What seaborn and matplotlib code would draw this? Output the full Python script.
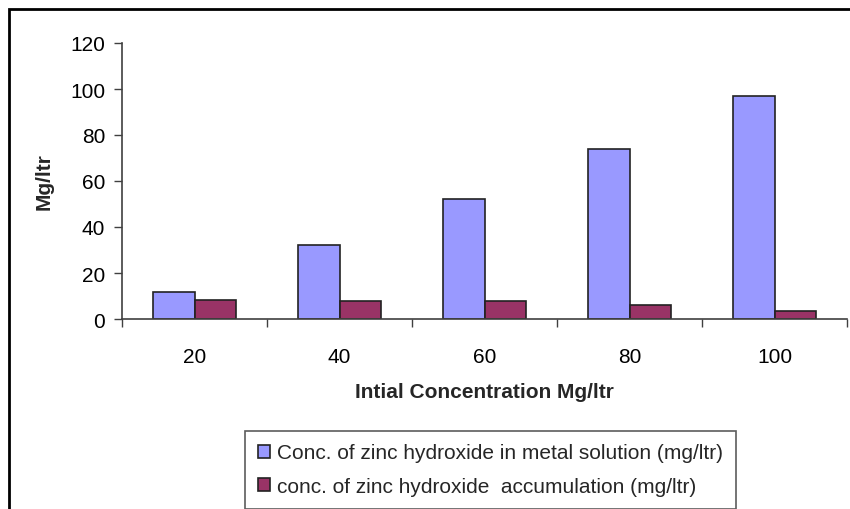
import matplotlib
matplotlib.use("Agg")
import matplotlib.pyplot as plt
import seaborn as sns
import pandas as pd
from matplotlib.patches import Rectangle

categories = ["20", "40", "60", "80", "100"]
series_names = ["Conc. of zinc hydroxide in metal solution (mg/ltr)",
                "conc. of zinc hydroxide  accumulation (mg/ltr)"]
solution_vals = [11.7, 32.2, 52, 74, 96.8]
accum_vals = [8.3, 7.8, 7.8, 6, 3.5]
y_ticks = [0, 20, 40, 60, 80, 100, 120]

df = pd.DataFrame({
    "cat": categories * 2,
    "val": solution_vals + accum_vals,
    "series": [series_names[0]] * len(categories) + [series_names[1]] * len(categories),
})

sns.set_theme(style="white")
plt.rcParams['font.family'] = ['Liberation Sans', 'DejaVu Sans']

fs = 15
fig = plt.figure(figsize=(8.5, 5.1), dpi=100)
ax = fig.add_axes([122/850, 1 - 320/510, (847-122)/850, (320-44)/510])

sns.barplot(data=df, x="cat", y="val", hue="series", order=categories,
            hue_order=series_names, palette=["#9999FF", "#993366"], saturation=1,
            width=0.57, edgecolor="#222222", linewidth=1.2, ax=ax, legend=True)

ax.set_ylim(0, 120)
ax.set_xlim(-0.5, 4.5)
ax.set_yticks(y_ticks)
ax.tick_params(axis='y', labelsize=fs, length=6, width=1, color="#404040",
               direction='out', left=True, pad=6, labelcolor="black")
ax.set_xticks(range(len(categories)))
ax.set_xticklabels(categories)
ax.tick_params(axis='x', which='major', length=0, labelsize=fs, pad=20, labelcolor="black")
ax.set_xticks([i - 0.5 for i in range(len(categories) + 1)], minor=True)
ax.tick_params(axis='x', which='minor', length=6, width=1, color="#404040",
               direction='out', bottom=True)

for s in ["top", "right"]:
    ax.spines[s].set_visible(False)
for s in ["left", "bottom"]:
    ax.spines[s].set_color("#404040")
    ax.spines[s].set_linewidth(1.2)

ax.set_xlabel("Intial Concentration Mg/ltr", fontsize=fs, fontweight="bold", labelpad=12)
ax.set_ylabel("Mg/ltr", fontsize=fs, fontweight="bold", labelpad=12)

handles, labels = ax.get_legend_handles_labels()
ax.get_legend().remove()
leg = fig.legend(handles, labels, loc="upper left",
                 bbox_to_anchor=(245/850, 1 - 432/510), fontsize=fs,
                 frameon=True, fancybox=False, edgecolor="#333333",
                 handlelength=0.6, handleheight=0.6, handletextpad=0.35,
                 borderpad=0.6, labelspacing=0.7, borderaxespad=0)
leg.get_frame().set_linewidth(1.2)

fig.add_artist(Rectangle((9/850, -0.2), 1.5, 1.2 - 10/510, transform=fig.transFigure,
                         fill=False, edgecolor="black", linewidth=2))

fig.savefig("out.png", dpi=100)
